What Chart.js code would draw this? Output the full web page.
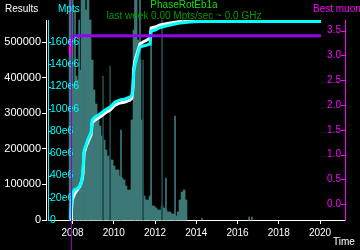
<!DOCTYPE html>
<html>
<head>
<meta charset="utf-8">
<script src="https://cdn.jsdelivr.net/npm/chart.js@4.4.1/dist/chart.umd.min.js"></script>
<style>
  html, body { margin: 0; padding: 0; background: #000; }
  canvas { display: block; }
</style>
</head>
<body>
<canvas id="statsChart" width="360" height="250"></canvas>
<script>
// cumulative results (left axis)
const resultYears = [2007.93, 2007.95, 2007.98, 2008.12, 2008.36, 2008.46, 2008.51, 2008.56, 2008.65, 2008.75,
    2008.90, 2008.95, 2009.09, 2009.33, 2009.58, 2009.82, 2010.06, 2010.30, 2010.55, 2010.79,
    2010.88, 2010.93, 2010.96, 2011.03, 2011.18, 2011.27, 2011.42, 2011.61, 2011.76, 2011.81,
    2012.00, 2012.24, 2012.73, 2013.21, 2013.70, 2014.18];
const resultCounts = [0, 28100, 56200, 75800, 95500, 112400, 132000, 188200, 205100, 219100,
    238800, 272500, 280900, 289300, 300600, 309000, 323000, 328700, 331500, 337100,
    342700, 370800, 421400, 449400, 477500, 494400, 500000, 505600, 511200, 539300,
    542100, 547800, 553400, 557600, 560400, 560400];

// cumulative Mpts (inner left axis)
const mptsYears = [2007.90, 2007.93, 2007.98, 2008.07, 2008.27, 2008.41, 2008.46, 2008.51, 2008.56, 2008.65,
    2008.75, 2008.90, 2008.95, 2009.09, 2009.33, 2009.58, 2009.82, 2010.06, 2010.30, 2010.55,
    2010.79, 2010.88, 2010.93, 2010.98, 2011.05, 2011.18, 2011.27, 2011.42, 2011.61, 2011.76,
    2011.81, 2012.00, 2012.24, 2012.73, 2013.21, 2013.70, 2014.18, 2020.05];
const mptsValues = [0.9e6, 13.5e6, 22.5e6, 27.0e6, 28.8e6, 32.4e6, 37.8e6, 45.0e6, 62.9e6, 67.4e6,
    72.8e6, 79.1e6, 89.9e6, 92.6e6, 95.3e6, 98.9e6, 101.6e6, 106.1e6, 107.9e6, 108.8e6,
    110.6e6, 112.4e6, 121.4e6, 134.9e6, 141.1e6, 150.1e6, 155.5e6, 156.4e6, 157.3e6, 158.2e6,
    169.9e6, 170.8e6, 173.1e6, 175.3e6, 177.1e6, 178.0e6, 178.5e6, 178.5e6];

// best muon (right axis)
const muonYears = [2007.90, 2007.90, 2007.93, 2007.98, 2008.12, 2020.05];
const muonValues = [3.01, 3.21, 3.31, 3.36, 3.40, 3.40];

// daily results histogram
const barYears = [2007.88, 2007.98, 2008.07, 2008.17, 2008.27, 2008.36, 2008.46, 2008.56, 2008.65, 2008.75,
    2008.85, 2008.95, 2009.04, 2009.14, 2009.24, 2009.33, 2009.43, 2009.53, 2009.62, 2009.72,
    2009.82, 2009.92, 2010.01, 2010.11, 2010.21, 2010.30, 2010.40, 2010.50, 2010.59, 2010.69,
    2010.79, 2010.88, 2010.98, 2011.08, 2011.18, 2011.27, 2011.37, 2011.47, 2011.56, 2011.66,
    2011.76, 2011.85, 2011.95, 2012.05, 2012.15, 2012.24, 2012.34, 2012.44, 2012.53, 2012.63,
    2012.73, 2012.82, 2012.92, 2013.02, 2013.12, 2013.21, 2013.31, 2013.41, 2013.50];
const barHeights = [110, 110, 68, 72, 70, 75, 110, 110, 105, 110,
    100, 80, 65, 58, 52, 47, 42, 40, 35, 32,
    30, 30, 27, 25, 25, 22, 21, 20, 17, 15,
    15, 50, 95, 110, 90, 80, 50, 12, 10, 10,
    12, 7, 7, 6, 5, 5, 7, 6, 5, 4,
    4, 3, 3, 2, 4, 10, 14, 15, 10];
const spikeYears = [2008.12, 2008.32, 2008.51, 2008.75, 2010.35, 2011.03, 2011.27, 2011.81, 2012.53, 2012.97, 2014.28, 2016.56, 2016.70];
const spikeHeights = [105, 100, 110, 110, 45, 110, 110, 90, 21, 52, 1, 1.5, 1.5];
const darkSpikeYears = [2009.48, 2009.82, 2011.42, 2012.34];
const darkSpikeHeights = [72, 77, 80, 100];

const timeTicks = [2008, 2010, 2012, 2014, 2016, 2018, 2020];
const resultTicks = [0, 100000, 200000, 300000, 400000, 500000];
const mptsTicks = [0, 20e6, 40e6, 60e6, 80e6, 100e6, 120e6, 140e6, 160e6];
const muonTicks = [0, 0.5, 1, 1.5, 2, 2.5, 3, 3.5];
const markerYear = 2007.93;

const pts = (xs, ys) => xs.map((x, i) => ({ x: x, y: ys[i] }));
const setTicks = list => scale => { scale.ticks = list.map(v => ({ value: v })); };

Chart.defaults.font.family = "'Liberation Sans', Arial, sans-serif";
Chart.defaults.font.size = 10;

const headerPlugin = {
    id: 'header',
    beforeDraw(chart) {
        const ctx = chart.ctx;
        ctx.save();
        ctx.fillStyle = '#000';
        ctx.fillRect(0, 0, chart.width, chart.height);
        ctx.restore();
    },
    afterDraw(chart) {
        const ctx = chart.ctx;
        const s = chart.scales;
        ctx.save();
        // start marker
        const mx = Math.round(s.x.getPixelForValue(markerYear)) + 0.5;
        ctx.strokeStyle = '#8a00d0';
        ctx.lineWidth = 1;
        ctx.beginPath();
        ctx.moveTo(mx, 0);
        ctx.lineTo(mx, chart.height);
        ctx.stroke();

        // inward tick marks for the mirrored axes
        ctx.strokeStyle = '#00ffff';
        s.yMpts.ticks.forEach(t => {
            const y = Math.round(s.yMpts.getPixelForValue(t.value)) + 0.5;
            ctx.beginPath();
            ctx.moveTo(s.yMpts.right, y);
            ctx.lineTo(s.yMpts.right + 3, y);
            ctx.stroke();
        });
        ctx.strokeStyle = '#ff00ff';
        s.yMuon.ticks.forEach(t => {
            const y = Math.round(s.yMuon.getPixelForValue(t.value)) + 0.5;
            ctx.beginPath();
            ctx.moveTo(s.yMuon.left - 4, y);
            ctx.lineTo(s.yMuon.left, y);
            ctx.stroke();
        });

        ctx.font = "10px 'Liberation Sans', Arial, sans-serif";
        ctx.textBaseline = 'middle';
        ctx.textAlign = 'left';
        ctx.fillStyle = '#fff';
        ctx.fillText('Results', 5, 9);
        ctx.fillText('Time', 333, 242);
        ctx.fillStyle = '#00ffff';
        ctx.fillText('Mpts', 58, 9);
        ctx.fillStyle = '#ff00ff';
        ctx.fillText('Best muon', 313, 9);
        ctx.textAlign = 'center';
        ctx.fillStyle = '#10e010';
        ctx.fillText('PhaseRotEb1a', 184, 5);
        ctx.fillStyle = '#009a00';
        ctx.fillText('last week 0.00 Mpts/sec ~ 0.0 GHz', 184, 16);
        ctx.restore();
    }
};

new Chart(document.getElementById('statsChart').getContext('2d'), {
    type: 'line',
    data: {
        datasets: [
            {
                label: 'Best muon',
                data: pts(muonYears, muonValues),
                yAxisID: 'yMuon',
                borderColor: '#9400f0',
                borderWidth: 3,
                pointRadius: 0,
                segment: { borderColor: c => c.p1DataIndex < 4 ? '#ff00ff' : undefined }
            },
            {
                label: 'Mpts',
                data: pts(mptsYears, mptsValues),
                yAxisID: 'yMpts',
                borderColor: '#00ffff',
                borderWidth: 3,
                pointRadius: 0
            },
            {
                label: 'Results',
                data: pts(resultYears, resultCounts),
                yAxisID: 'yRes',
                borderColor: '#ffffff',
                borderWidth: 3,
                pointRadius: 0
            },
            {
                type: 'bar',
                label: 'spikes dark',
                data: pts(darkSpikeYears, darkSpikeHeights),
                yAxisID: 'yBar',
                backgroundColor: '#1f4b49',
                barThickness: 1,
                grouped: false,
                clip: false
            },
            {
                type: 'bar',
                label: 'spikes',
                data: pts(spikeYears, spikeHeights),
                yAxisID: 'yBar',
                backgroundColor: '#3c7876',
                barThickness: 1,
                grouped: false,
                clip: false
            },
            {
                type: 'bar',
                label: 'daily',
                data: pts(barYears, barHeights),
                yAxisID: 'yBar',
                backgroundColor: '#3c7876',
                barThickness: 2,
                grouped: false,
                clip: false
            }
        ]
    },
    options: {
        responsive: false,
        animation: false,
        layout: { padding: { top: 20, right: 15, left: 0, bottom: 0 } },
        plugins: { legend: { display: false }, tooltip: { enabled: false } },
        scales: {
            x: {
                type: 'linear',
                offset: false,
                min: 2006.81,
                max: 2021.21,
                afterBuildTicks: setTicks(timeTicks),
                afterFit: s => { s.height = 30; s.paddingLeft = 0; s.paddingRight = 0; },
                ticks: { color: '#fff', padding: 3, maxRotation: 0, autoSkip: false, callback: v => String(v) },
                grid: { offset: false, drawOnChartArea: false, color: '#fff', tickLength: 4 },
                border: { color: '#fff' }
            },
            yRes: {
                position: 'left',
                weight: 1,
                min: 0,
                max: 561800,
                afterBuildTicks: setTicks(resultTicks),
                afterFit: s => { s.width = 46; },
                ticks: { color: '#fff', padding: 1, font: { size: 11 }, callback: v => String(v) },
                grid: { drawOnChartArea: false, color: '#fff', tickLength: 4 },
                border: { color: '#fff' }
            },
            yMpts: {
                position: 'left',
                weight: 0,
                min: 0,
                max: 179.8e6,
                afterBuildTicks: setTicks(mptsTicks),
                afterFit: s => { s.width = 2; },
                ticks: { z: 1, color: '#00ffff', mirror: true, padding: 2, font: { size: 10.5 },
                    callback: v => v === 0 ? '0' : (v / 1e6) + 'e6' },
                grid: { drawOnChartArea: false, drawTicks: false },
                border: { z: 1, color: '#00ffff' }
            },
            yMuon: {
                position: 'right',
                min: -0.323,
                max: 3.717,
                afterBuildTicks: setTicks(muonTicks),
                afterFit: s => { s.width = 0; },
                ticks: { z: 1, color: '#ff00ff', mirror: true, padding: -4, callback: v => v.toFixed(1) },
                grid: { drawOnChartArea: false, drawTicks: false },
                border: { z: 1, color: '#ff00ff' }
            },
            yBar: {
                display: false,
                min: 0,
                max: 100
            }
        }
    },
    plugins: [headerPlugin]
});
</script>
</body>
</html>
